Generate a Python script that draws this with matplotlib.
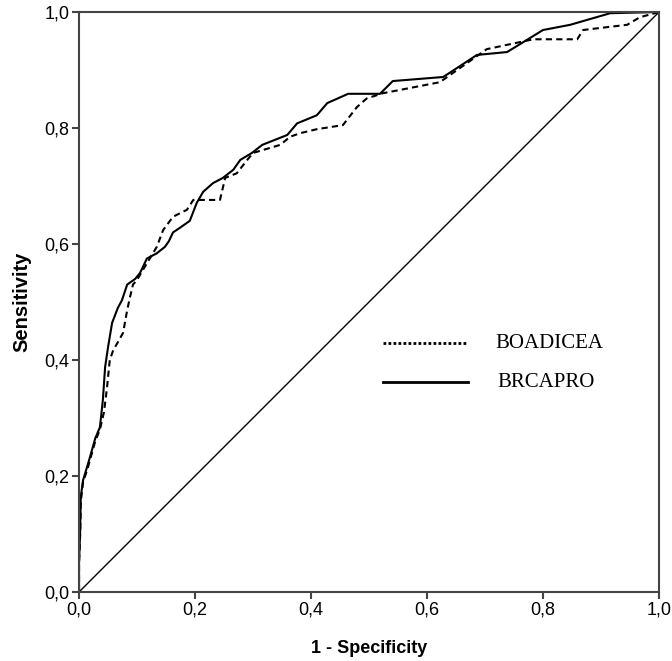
import matplotlib
matplotlib.use("Agg")
import matplotlib.pyplot as plt

# ROC curve points (1 - specificity, sensitivity)
brcapro_fpr = [0, 0, 0.002, 0.003, 0.007, 0.014, 0.019, 0.028, 0.036, 0.041, 0.045,
               0.050, 0.057, 0.067, 0.074, 0.083, 0.097, 0.105, 0.109, 0.117, 0.134,
               0.148, 0.155, 0.162, 0.174, 0.191, 0.203, 0.214, 0.231, 0.248, 0.266,
               0.278, 0.298, 0.316, 0.359, 0.376, 0.410, 0.428, 0.464, 0.519, 0.541,
               0.628, 0.686, 0.738, 0.800, 0.847, 0.916, 1.0]
brcapro_tpr = [0, 0.05, 0.107, 0.164, 0.193, 0.216, 0.233, 0.265, 0.284, 0.330, 0.388,
               0.422, 0.464, 0.490, 0.503, 0.530, 0.540, 0.550, 0.558, 0.575, 0.584,
               0.595, 0.605, 0.620, 0.628, 0.640, 0.671, 0.690, 0.705, 0.714, 0.728,
               0.745, 0.757, 0.771, 0.788, 0.808, 0.822, 0.843, 0.859, 0.859, 0.881,
               0.888, 0.926, 0.931, 0.969, 0.978, 0.998, 1.0]

boadicea_fpr = [0, 0, 0.002, 0.003, 0.007, 0.014, 0.019, 0.028, 0.036, 0.043, 0.048,
                0.053, 0.059, 0.066, 0.076, 0.083, 0.088, 0.093, 0.100, 0.110, 0.134,
                0.145, 0.162, 0.186, 0.197, 0.243, 0.252, 0.272, 0.290, 0.300, 0.347,
                0.364, 0.381, 0.410, 0.455, 0.479, 0.496, 0.524, 0.622, 0.669, 0.703,
                0.783, 0.859, 0.869, 0.945, 0.967, 1.0]
boadicea_tpr = [0, 0.05, 0.10, 0.155, 0.19, 0.21, 0.228, 0.26, 0.28, 0.31, 0.350,
                0.40, 0.417, 0.429, 0.447, 0.486, 0.509, 0.530, 0.538, 0.555, 0.595,
                0.624, 0.647, 0.659, 0.676, 0.676, 0.714, 0.722, 0.745, 0.757, 0.771,
                0.785, 0.791, 0.798, 0.805, 0.836, 0.851, 0.860, 0.879, 0.912, 0.936,
                0.953, 0.953, 0.969, 0.978, 0.991, 1.0]

ticks = [0, 0.2, 0.4, 0.6, 0.8, 1.0]
tick_labels = ["0,0", "0,2", "0,4", "0,6", "0,8", "1,0"]

fig = plt.figure(figsize=(6.72, 6.61), dpi=100)
ax = fig.add_axes([0.1176, 0.1044, 0.8631, 0.8774])

ax.plot([0, 1], [0, 1], color="black", lw=1.0)
ax.plot(boadicea_fpr, boadicea_tpr, color="black", lw=1.5, linestyle=(0, (3, 2)))
ax.plot(brcapro_fpr, brcapro_tpr, color="black", lw=1.5)

# legend drawn inside the plot like the original
ax.plot([0.524, 0.671], [0.429, 0.429], color="black", lw=2, linestyle=(0, (1, 0.8)))
ax.plot([0.524, 0.671], [0.362, 0.362], color="black", lw=2)
ax.text(0.717, 0.429, "BOADICEA", family="Liberation Serif", fontsize=15, va="center")
ax.text(0.722, 0.362, "BRCAPRO", family="Liberation Serif", fontsize=15, va="center")

ax.set_xlim(0, 1)
ax.set_ylim(0, 1)
ax.set_xticks(ticks)
ax.set_xticklabels(tick_labels)
ax.set_yticks(ticks)
ax.set_yticklabels(tick_labels)
for lab in ax.get_xticklabels() + ax.get_yticklabels():
    lab.set_family("Liberation Sans")
    lab.set_fontsize(13)

for s in ax.spines.values():
    s.set_color("#444444")
    s.set_linewidth(1.5)
ax.tick_params(direction="out", length=5, width=1.5, color="#444444", pad=2)

ax.set_xlabel("1 - Specificity", family="Liberation Sans", fontsize=13,
              fontweight="bold", labelpad=15)
ax.set_ylabel("Sensitivity", family="Liberation Sans", fontsize=14.5,
              fontweight="bold", labelpad=9)

fig.savefig("out.png", dpi=100)
